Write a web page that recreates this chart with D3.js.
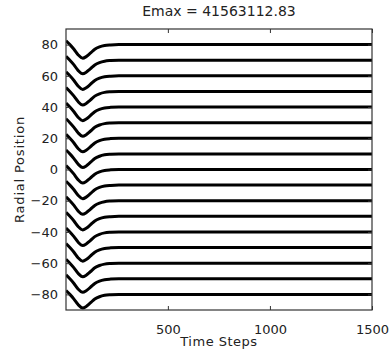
<!DOCTYPE html>
<html>
<head>
<meta charset="utf-8">
<script src="https://cdn.jsdelivr.net/npm/d3@7"></script>
<style>
  html, body { margin: 0; padding: 0; background: #fff; }
  svg { display: block; }
  text { font-family: "DejaVu Sans", sans-serif; fill: #222; }
</style>
</head>
<body>
<svg id="chart" width="390" height="356"></svg>
<script>
// ---- data ----
const titleText = "Emax = 41563112.83";
const xLabel = "Time Steps";
const yLabel = "Radial Position";
const xTicks = [500, 1000, 1500];
const yTicks = [-80, -60, -40, -20, 0, 20, 40, 60, 80];
const timeSteps = [1, 20, 40, 60, 83, 100, 120, 142, 165, 190, 220, 260, 1500];
const series = [
  [82.5, 80, 77, 73.5, 71.3, 72.3, 74.5, 77, 78.5, 79.4, 79.8, 80, 80],
  [72.5, 70, 67, 63.5, 61.3, 62.3, 64.5, 67, 68.5, 69.4, 69.8, 70, 70],
  [62.5, 60, 57, 53.5, 51.3, 52.3, 54.5, 57, 58.5, 59.4, 59.8, 60, 60],
  [52.5, 50, 47, 43.5, 41.3, 42.3, 44.5, 47, 48.5, 49.4, 49.8, 50, 50],
  [42.5, 40, 37, 33.5, 31.3, 32.3, 34.5, 37, 38.5, 39.4, 39.8, 40, 40],
  [32.5, 30, 27, 23.5, 21.3, 22.3, 24.5, 27, 28.5, 29.4, 29.8, 30, 30],
  [22.5, 20, 17, 13.5, 11.3, 12.3, 14.5, 17, 18.5, 19.4, 19.8, 20, 20],
  [12.5, 10, 7, 3.5, 1.3, 2.3, 4.5, 7, 8.5, 9.4, 9.8, 10, 10],
  [2.5, 0, -3, -6.5, -8.7, -7.7, -5.5, -3, -1.5, -0.6, -0.2, 0, 0],
  [-7.5, -10, -13, -16.5, -18.7, -17.7, -15.5, -13, -11.5, -10.6, -10.2, -10, -10],
  [-17.5, -20, -23, -26.5, -28.7, -27.7, -25.5, -23, -21.5, -20.6, -20.2, -20, -20],
  [-27.5, -30, -33, -36.5, -38.7, -37.7, -35.5, -33, -31.5, -30.6, -30.2, -30, -30],
  [-37.5, -40, -43, -46.5, -48.7, -47.7, -45.5, -43, -41.5, -40.6, -40.2, -40, -40],
  [-47.5, -50, -53, -56.5, -58.7, -57.7, -55.5, -53, -51.5, -50.6, -50.2, -50, -50],
  [-57.5, -60, -63, -66.5, -68.7, -67.7, -65.5, -63, -61.5, -60.6, -60.2, -60, -60],
  [-67.5, -70, -73, -76.5, -78.7, -77.7, -75.5, -73, -71.5, -70.6, -70.2, -70, -70],
  [-77.5, -80, -83, -86.5, -88.7, -87.7, -85.5, -83, -81.5, -80.6, -80.2, -80, -80]
];

// ---- layout ----
const mLeft = 66, mRight = 372, mTop = 29, mBottom = 310;
const svg = d3.select("#chart");

const x = d3.scaleLinear().domain([1, 1500]).range([mLeft, mRight]);
const y = d3.scaleLinear().domain([-90, 90]).range([mBottom, mTop]);

svg.append("defs").append("clipPath").attr("id", "clip")
  .append("rect").attr("x", mLeft).attr("y", mTop)
  .attr("width", mRight - mLeft).attr("height", mBottom - mTop);

// lines
const line = d3.line()
  .x((d, i) => x(timeSteps[i]))
  .y(d => y(d))
  .curve(d3.curveMonotoneX);

svg.append("g").attr("clip-path", "url(#clip)")
  .selectAll("path").data(series).join("path")
  .attr("d", line)
  .attr("fill", "none")
  .attr("stroke", "#000")
  .attr("stroke-width", 3);

// axes (inward ticks like MATLAB)
const tickLen = 4;
const axStyle = g => {
  g.select(".domain").remove();
  g.selectAll(".tick line").attr("stroke", "#333");
  g.selectAll("text").style("font-size", "13px").attr("fill", "#222");
};

svg.append("g").attr("transform", `translate(0,${mBottom})`)
  .call(d3.axisBottom(x).tickValues(xTicks).tickSizeInner(-tickLen).tickSizeOuter(0).tickPadding(15)
    .tickFormat(d3.format("d")))
  .call(axStyle);
svg.append("g").attr("transform", `translate(0,${mTop})`)
  .call(d3.axisTop(x).tickValues(xTicks).tickSizeInner(-tickLen).tickSizeOuter(0).tickFormat(""))
  .call(axStyle);
svg.append("g").attr("transform", `translate(${mLeft},0)`)
  .call(d3.axisLeft(y).tickValues(yTicks).tickSizeInner(-tickLen).tickSizeOuter(0).tickPadding(8)
    .tickFormat(d => d < 0 ? "\u2212" + Math.abs(d) : String(d)))
  .call(axStyle);
svg.append("g").attr("transform", `translate(${mRight},0)`)
  .call(d3.axisRight(y).tickValues(yTicks).tickSizeInner(-tickLen).tickSizeOuter(0).tickFormat(""))
  .call(axStyle);

// frame
svg.append("rect")
  .attr("x", mLeft).attr("y", mTop)
  .attr("width", mRight - mLeft).attr("height", mBottom - mTop)
  .attr("fill", "none").attr("stroke", "#333").attr("stroke-width", 1.2);

// title and labels
svg.append("text")
  .attr("x", (mLeft + mRight) / 2).attr("y", 15.5)
  .attr("text-anchor", "middle")
  .style("font-size", "14px")
  .text(titleText);

svg.append("text")
  .attr("x", (mLeft + mRight) / 2).attr("y", 346)
  .attr("text-anchor", "middle")
  .style("font-size", "13px").style("letter-spacing", "0.5px")
  .text(xLabel);

svg.append("text")
  .attr("transform", `translate(24,${(mTop + mBottom) / 2}) rotate(-90)`)
  .attr("text-anchor", "middle")
  .style("font-size", "13px").style("letter-spacing", "0.8px")
  .text(yLabel);
</script>
</body>
</html>
